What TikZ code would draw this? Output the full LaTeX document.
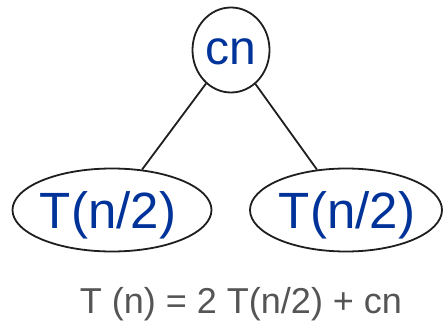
\documentclass[tikz,border=0pt]{standalone}
\usepackage{fontspec}
\setmainfont{Liberation Sans}
\usetikzlibrary{shapes.geometric}
\definecolor{nodeblue}{RGB}{0,51,153}
\definecolor{eqgrey}{RGB}{85,85,85}
\definecolor{edgec}{RGB}{30,30,30}
\tikzset{
  oval/.style={draw=edgec, line width=1.8pt, ellipse, inner sep=0pt},
  lbl/.style={text=nodeblue, anchor=base, inner sep=0pt},
  edge/.style={draw=edgec, line width=1.8pt}
}
\begin{document}
\begin{tikzpicture}[x=1pt,y=-1pt]
\useasboundingbox (0,0) rectangle (443,328);
\fill[white] (0,0) rectangle (443,328);
\node[oval, minimum width=77pt, minimum height=85pt] (top) at (231,50) {};
\node[oval, minimum width=199pt, minimum height=83pt] (left) at (112,210) {};
\node[oval, minimum width=192pt, minimum height=83pt] (right) at (346,210) {};
\node[lbl, font=\fontsize{48}{48}\selectfont] (tl) at (231,65) {cn};
\node[lbl, font=\fontsize{51}{51}\selectfont] (ll) at (108,228) {T(n/2)};
\node[lbl, font=\fontsize{51}{51}\selectfont] (rl) at (347,228) {T(n/2)};
\draw[edge] (top) -- (left);
\draw[edge] (top) -- (right);
\node[anchor=base, text=eqgrey, inner sep=0pt, font=\fontsize{36}{36}\selectfont] (eq) at (241,313) {T (n) = 2 T(n/2) + cn};
\end{tikzpicture}
\end{document}
